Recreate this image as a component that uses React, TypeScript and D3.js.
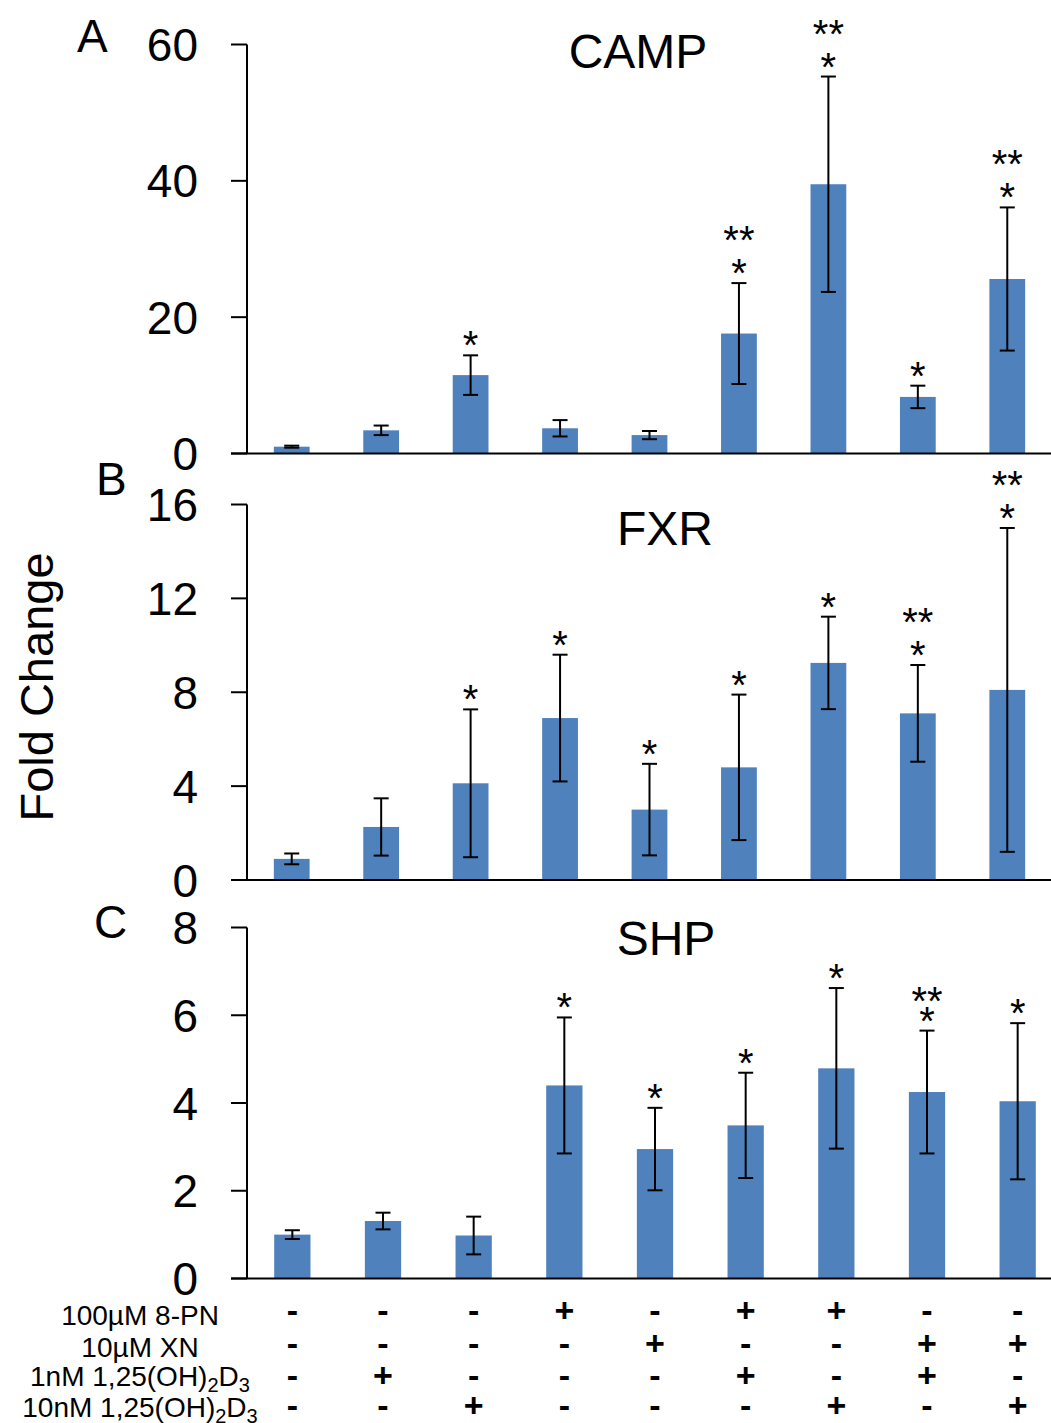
import React from 'react';
import * as d3 from 'd3';

const groups = ['g1', 'g2', 'g3', 'g4', 'g5', 'g6', 'g7', 'g8', 'g9'];

const campMean = [1.0, 3.4, 11.5, 3.7, 2.7, 17.6, 39.5, 8.3, 25.6];
const campErr = [0.15, 0.7, 2.9, 1.2, 0.6, 7.4, 15.8, 1.65, 10.5];
const campSingle = [0, 0, 1, 0, 0, 1, 1, 1, 1];
const campDouble = [0, 0, 0, 0, 0, 1, 1, 0, 1];
const campTicks = [0, 20, 40, 60];

const fxrMean = [0.9, 2.26, 4.12, 6.9, 3.0, 4.8, 9.25, 7.1, 8.1];
const fxrErr = [0.23, 1.22, 3.15, 2.7, 1.95, 3.1, 1.97, 2.06, 6.9];
const fxrSingle = [0, 0, 1, 1, 1, 1, 1, 1, 1];
const fxrDouble = [0, 0, 0, 0, 0, 0, 0, 1, 1];
const fxrTicks = [0, 4, 8, 12, 16];

const shpMean = [1.0, 1.31, 0.98, 4.4, 2.95, 3.49, 4.79, 4.25, 4.04];
const shpErr = [0.1, 0.19, 0.43, 1.55, 0.94, 1.2, 1.83, 1.4, 1.78];
const shpSingle = [0, 0, 0, 1, 1, 1, 1, 1, 1];
const shpDouble = [0, 0, 0, 0, 0, 0, 0, 1, 0];
const shpTicks = [0, 2, 4, 6, 8];

const rowLabels = ['100µM 8-PN', '10µM XN', '1nM 1,25(OH)|2|D|3', '10nM 1,25(OH)|2|D|3'];
const row8PN = ['-', '-', '-', '+', '-', '+', '+', '-', '-'];
const rowXN = ['-', '-', '-', '-', '+', '-', '-', '+', '+'];
const row1nM = ['-', '+', '-', '-', '-', '+', '-', '+', '-'];
const row10nM = ['-', '-', '+', '-', '-', '-', '+', '-', '+'];

const FONT = "'Liberation Sans', Arial, sans-serif";
const BAR = '#4F81BD';

type PanelProps = {
  letter: string;
  title: string;
  mean: number[];
  err: number[];
  single: number[];
  dbl: number[];
  ticks: number[];
  y0: number;
  yTop: number;
  xRange: [number, number];
  titleX: number;
  titleY: number;
  letterX: number;
  letterY: number;
  starOff: number;
  starGap: number;
};

function Panel(p: PanelProps) {
  const x = d3.scaleBand<string>().domain(groups).range(p.xRange).paddingInner(0.6).paddingOuter(0.3);
  const y = d3.scaleLinear().domain([0, p.ticks[p.ticks.length - 1]]).range([p.y0, p.yTop]);
  const axisX = p.xRange[0];
  const bw = x.bandwidth();
  const cap = 7.5;
  return (
    <g>
      <text x={p.letterX} y={p.letterY} fontSize={46} fontFamily={FONT}>{p.letter}</text>
      <text x={p.titleX} y={p.titleY} fontSize={48} fontFamily={FONT} textAnchor="middle">{p.title}</text>
      {groups.map((g, i) => {
        const cx = (x(g) as number) + bw / 2;
        const top = y(p.mean[i] + p.err[i]);
        const bot = y(p.mean[i] - p.err[i]);
        return (
          <g key={g}>
            <rect x={x(g)} y={y(p.mean[i])} width={bw} height={p.y0 - y(p.mean[i])} fill={BAR} />
            <line x1={cx} x2={cx} y1={top} y2={bot} stroke="#000" strokeWidth={2} />
            <line x1={cx - cap} x2={cx + cap} y1={top} y2={top} stroke="#000" strokeWidth={2} />
            <line x1={cx - cap} x2={cx + cap} y1={bot} y2={bot} stroke="#000" strokeWidth={2} />
            {p.single[i] ? (
              <text x={cx} y={top - p.starOff + 22} fontSize={40} fontFamily={FONT} textAnchor="middle">*</text>
            ) : null}
            {p.dbl[i] ? (
              <text x={cx} y={top - p.starOff - p.starGap + 22} fontSize={40} fontFamily={FONT} textAnchor="middle">**</text>
            ) : null}
          </g>
        );
      })}
      <line x1={axisX} x2={axisX} y1={p.yTop} y2={p.y0} stroke="#000" strokeWidth={2} />
      <line x1={axisX - 16} x2={1051} y1={p.y0} y2={p.y0} stroke="#000" strokeWidth={2} />
      {p.ticks.map((t) => (
        <g key={t}>
          <line x1={axisX - 16} x2={axisX} y1={y(t)} y2={y(t)} stroke="#000" strokeWidth={2} />
          <text x={198} y={y(t)} dy="0.36em" fontSize={46} fontFamily={FONT} textAnchor="end">{t}</text>
        </g>
      ))}
    </g>
  );
}

function RowLabel({ label, x, y }: { label: string; x: number; y: number }) {
  const parts = label.split('|');
  return (
    <text x={x} y={y} fontSize={28} fontFamily={FONT} textAnchor="middle">
      {parts.map((s, i) =>
        i % 2 === 1 ? (
          <tspan key={i} fontSize={20} dy={6}>{s}</tspan>
        ) : (
          <tspan key={i} dy={i === 0 ? 0 : -6}>{s}</tspan>
        )
      )}
    </text>
  );
}

export default function App() {
  const xc = d3.scaleBand<string>().domain(groups).range([247, 1063]).paddingInner(0.6).paddingOuter(0.3);
  const rows = [row8PN, rowXN, row1nM, row10nM];
  const rowY = [1310, 1343, 1375, 1405];
  const labelY = [1325, 1357, 1386, 1417];
  return (
    <svg width={1051} height={1423} style={{ position: 'absolute', left: 0, top: 0, display: 'block', background: '#fff' }}>
      <Panel letter="A" title="CAMP" mean={campMean} err={campErr} single={campSingle} dbl={campDouble} ticks={campTicks}
        y0={453.5} yTop={44.5} xRange={[247, 1052]} titleX={638} titleY={68} letterX={77} letterY={52} starOff={18} starGap={33} />
      <Panel letter="B" title="FXR" mean={fxrMean} err={fxrErr} single={fxrSingle} dbl={fxrDouble} ticks={fxrTicks}
        y0={880} yTop={504.5} xRange={[247, 1052]} titleX={665} titleY={545} letterX={96} letterY={495} starOff={18} starGap={33} />
      <Panel letter="C" title="SHP" mean={shpMean} err={shpErr} single={shpSingle} dbl={shpDouble} ticks={shpTicks}
        y0={1278.5} yTop={927.5} xRange={[247, 1063]} titleX={666} titleY={955} letterX={94} letterY={938} starOff={18} starGap={20} />
      <text transform="translate(53,687) rotate(-90)" fontSize={47} fontFamily={FONT} textAnchor="middle">Fold Change</text>
      {rowLabels.map((l, r) => (
        <RowLabel key={r} label={l} x={140} y={labelY[r]} />
      ))}
      {rows.map((row, r) =>
        row.map((s, i) => (
          <text key={r + '-' + i} x={(xc(groups[i]) as number) + xc.bandwidth() / 2} y={rowY[r]} dy="0.36em"
            fontSize={34} fontWeight="bold" fontFamily={FONT} textAnchor="middle">{s}</text>
        ))
      )}
    </svg>
  );
}
